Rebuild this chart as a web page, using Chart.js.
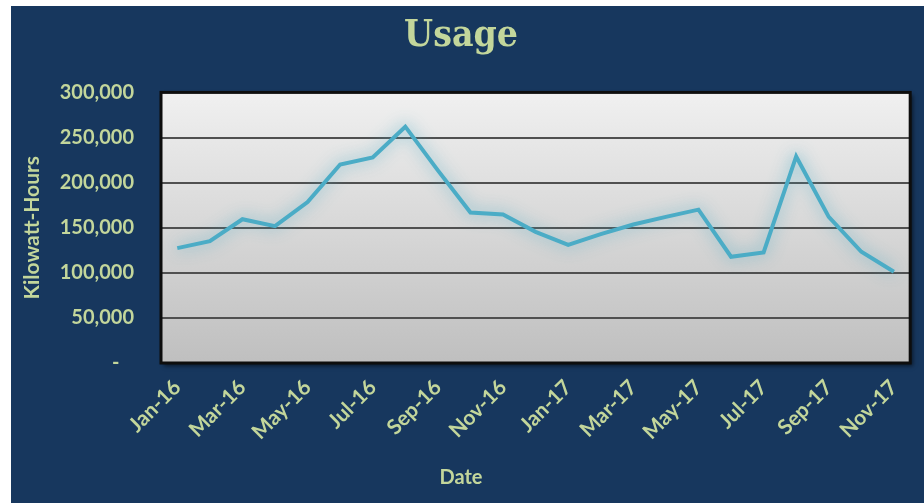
<!DOCTYPE html>
<html>
<head>
<meta charset="utf-8">
<script src="https://cdn.jsdelivr.net/npm/chart.js@4/dist/chart.umd.min.js"></script>
<style>
  html, body { margin: 0; padding: 0; background: #ffffff; }
  #wrap { position: absolute; left: 11px; top: 6px; width: 913px; height: 497px; background: #17375e; }
</style>
</head>
<body>
<div id="wrap"><canvas id="usageChart"></canvas></div>
<script>
/* ── Data ── */
const months = ['Jan-16', 'Feb-16', 'Mar-16', 'Apr-16', 'May-16', 'Jun-16', 'Jul-16', 'Aug-16',
  'Sep-16', 'Oct-16', 'Nov-16', 'Dec-16', 'Jan-17', 'Feb-17', 'Mar-17', 'Apr-17', 'May-17',
  'Jun-17', 'Jul-17', 'Aug-17', 'Sep-17', 'Oct-17', 'Nov-17'];
const usage = [127400, 135000, 159400, 151700, 178500, 220000, 228000, 262000, 213500, 166800,
  164600, 145400, 131000, 142800, 153500, 162000, 170000, 117800, 122600, 229000, 162000,
  123300, 101200];
const yTicks = [0, 50000, 100000, 150000, 200000, 250000, 300000];

const TEXT = '#c3d69b';
const LINE = '#4bacc6';
const FONT = "Lato, 'Open Sans', sans-serif";

/* ── Plot area: gradient fill, shadow, border ── */
const plotArea = {
  id: 'plotArea',
  beforeDraw(chart) {
    const { ctx, chartArea: { left, top, right, bottom } } = chart;
    const g = ctx.createLinearGradient(0, top, 0, bottom);
    g.addColorStop(0, '#f0f0f0');
    g.addColorStop(1, '#bfbfbf');
    ctx.save();
    ctx.shadowColor = 'rgba(0,0,0,0.55)';
    ctx.shadowBlur = 4;
    ctx.shadowOffsetX = 3;
    ctx.shadowOffsetY = 3;
    ctx.fillStyle = g;
    ctx.fillRect(left, top, right - left, bottom - top);
    ctx.restore();
  },
  beforeDatasetsDraw(chart) {
    const { ctx, chartArea: { left, top, right, bottom } } = chart;
    ctx.save();
    ctx.strokeStyle = '#0d0d0d';
    ctx.lineWidth = 3;
    ctx.strokeRect(left, top, right - left, bottom - top);
    ctx.restore();
  },
};

/* ── Soft glow under the line ── */
const lineGlow = {
  id: 'lineGlow',
  beforeDatasetDraw(chart) {
    const ctx = chart.ctx;
    ctx.save();
    ctx.shadowColor = 'rgba(75,172,198,0.8)';
    ctx.shadowBlur = 16;
  },
  afterDatasetDraw(chart) {
    chart.ctx.restore();
  },
};

new Chart(document.getElementById('usageChart'), {
  type: 'line',
  data: {
    labels: months,
    datasets: [{
      label: 'Usage',
      data: usage,
      borderColor: LINE,
      borderWidth: 4,
      pointRadius: 0,
      tension: 0,
      fill: false,
      clip: false,
    }],
  },
  options: {
    responsive: true,
    maintainAspectRatio: false,
    animation: false,
    layout: { padding: { left: 0, right: 13, top: 0, bottom: 0 } },
    plugins: {
      legend: { display: false },
      tooltip: { enabled: false },
      title: {
        display: true,
        text: 'Usage',
        color: TEXT,
        font: { family: "'DejaVu Serif Condensed', 'DejaVu Serif', serif", size: 37, weight: 'bold' },
        padding: { top: 8, bottom: 34 },
      },
      subtitle: {
        display: true,
        position: 'bottom',
        text: 'Date',
        color: TEXT,
        font: { family: FONT, size: 20, weight: 'bold' },
        padding: { top: 0, bottom: 13 },
      },
    },
    scales: {
      x: {
        offset: true,
        grid: { display: false, drawTicks: false },
        border: { display: false },
        ticks: {
          color: TEXT,
          font: { family: FONT, size: 21, weight: 'bold' },
          autoSkip: false,
          maxRotation: 45,
          minRotation: 45,
          padding: 12,
          callback: (v, i) => (i % 2 === 0 ? months[i] : ''),
        },
        afterFit(scale) { scale.height = 103; },
      },
      y: {
        min: 0,
        max: 300000,
        grid: { color: '#505050', lineWidth: 2, drawTicks: false },
        border: { display: false },
        afterBuildTicks(scale) { scale.ticks = yTicks.map(v => ({ value: v })); },
        ticks: {
          color: TEXT,
          font: { family: FONT, size: 20, weight: 'bold' },
          padding: 27,
          callback: v => (v === 0 ? '-   ' : v.toLocaleString('en-US')),
        },
        title: {
          display: true,
          text: 'Kilowatt-Hours',
          color: TEXT,
          font: { family: FONT, size: 21, weight: 'bold' },
          padding: { top: 9, bottom: 0 },
        },
        afterFit(scale) { scale.width = 150; },
      },
    },
  },
  plugins: [plotArea, lineGlow],
});
</script>
</body>
</html>
